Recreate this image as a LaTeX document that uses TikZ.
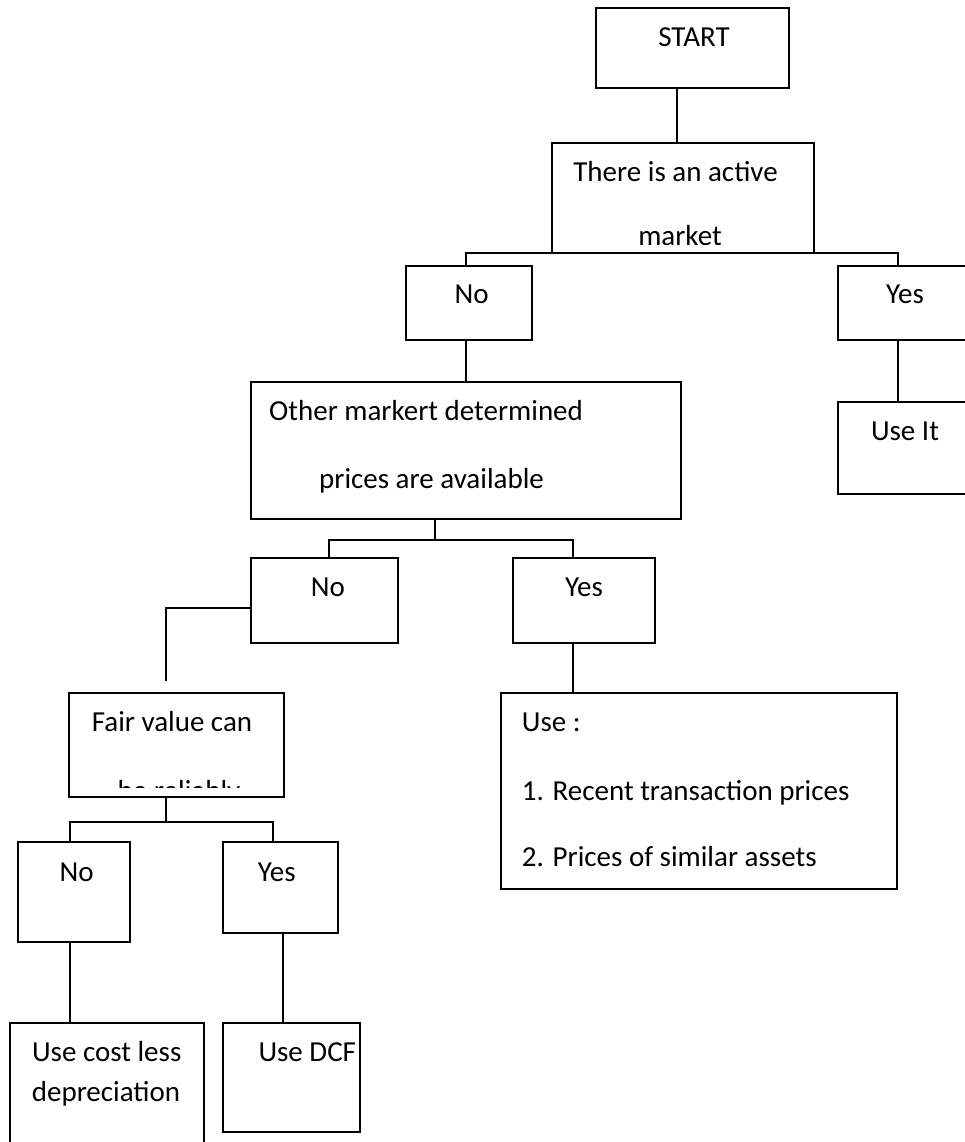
\documentclass[tikz,border=0pt]{standalone}
\usepackage{fontspec}
\setmainfont{Carlito}

\tikzset{
  box/.style={draw, line width=1.8pt, anchor=north west, inner sep=0pt, outer sep=0pt},
  txt/.style={anchor=base, inner sep=0pt, font=\fontsize{29}{35}\selectfont},
  link/.style={line width=1.1pt}
}

\begin{document}
\begin{tikzpicture}[x=1pt,y=-1pt]

\clip (0,0) rectangle (965,1142);

% boxes
\node[box, minimum width=193pt, minimum height=80pt] (start) at (596,8) {};
\node[box, minimum width=262pt, minimum height=110pt] (market) at (552,143) {};
\node[box, minimum width=126pt, minimum height=74pt] (no1) at (406,266) {};
\node[box, minimum width=160pt, minimum height=74pt] (yes1) at (838,266) {};
\node[box, minimum width=160pt, minimum height=92pt] (useit) at (838,402) {};
\node[box, minimum width=430pt, minimum height=137pt] (other) at (251,382) {};
\node[box, minimum width=147pt, minimum height=85pt] (no2) at (251,558) {};
\node[box, minimum width=142pt, minimum height=85pt] (yes2) at (513,558) {};
\node[box, minimum width=396pt, minimum height=196pt] (use) at (501,693) {};
\node[box, minimum width=215pt, minimum height=104pt] (fair) at (69,693) {};
\node[box, minimum width=112pt, minimum height=100pt] (no3) at (18,842) {};
\node[box, minimum width=115pt, minimum height=91pt] (yes3) at (223,842) {};
\node[box, minimum width=194pt, minimum height=227pt] (cost) at (10,1023) {};
\node[box, minimum width=137pt, minimum height=109pt] (dcf) at (223,1023) {};

\coordinate (fairgap) at ([xshift=-10.5pt,yshift=12pt]fair.north);

% connectors
\draw[link] ([xshift=-15.5pt]start.south) -- ([xshift=-6pt]market.north);
\draw[link] ([xshift=-3pt]no1.north) |- (market.south) -| ([xshift=-20pt]yes1.north);
\draw[link] ([xshift=-20pt]yes1.south) -- ([xshift=-20pt]useit.north);
\draw[link] ([xshift=-3pt]no1.south) -- (other.north);
\draw[link] ([xshift=-31pt]other.south) -- ++(0,21);
\draw[link] ([xshift=4.5pt]no2.north) -- ++(0,-18) -| ([xshift=-11pt]yes2.north);
\draw[link] ([xshift=-11pt]yes2.south) -- ([xshift=-126pt]use.north);
\draw[link] ([yshift=-7.5pt]no2.west) -| (fairgap);
\draw[link] ([xshift=-10.5pt]fair.south) -- ++(0,25);
\draw[link] ([xshift=-4pt]no3.north) -- ++(0,-20) -| ([xshift=-7.5pt]yes3.north);
\draw[link] ([xshift=-4pt]no3.south) -- ([xshift=-37pt]cost.north);
\draw[link] ([xshift=2.5pt]yes3.south) -- ([xshift=-8.5pt]dcf.north);

% texts
\node[txt] (tstart) at (694,46.7) {START};
\node[txt] (tmarket1) at (675.5,181.7) {There is an active};
\begin{scope}
  \clip (market.north west) rectangle ([yshift=9pt]market.south east);
  \node[txt] (tmarket2) at (680,245.5) {market};
\end{scope}
\node[txt] (tno1) at (471.7,303) {No};
\node[txt] (tyes1) at (905,303) {Yes};
\node[txt] (tuseit) at (905,440) {Use It};
\node[txt] (tother1) at (426,420) {Other markert determined};
\node[txt] (tother2) at (431.5,488) {prices are available};
\node[txt] (tno2) at (328,596) {No};
\node[txt] (tyes2) at (584,596) {Yes};
\node[txt] (tfair1) at (172,731.7) {Fair value can};
\begin{scope}
  \clip (fair.north west) rectangle ([yshift=10pt]fair.south east);
  \node[txt] (tfair2) at (179,800) {be reliably};
\end{scope}
\node[txt, anchor=base west] (tuse1) at (521.7,731.7) {Use :};
\node[txt, anchor=base west] (tuse2) at (521.7,800) {1. Recent transaction prices};
\node[txt, anchor=base west] (tuse3) at (521.7,866.7) {2. Prices of similar assets};
\node[txt] (tno3) at (76.7,881.7) {No};
\node[txt] (tyes3) at (276.7,881.7) {Yes};
\node[txt] (tcost1) at (106.7,1061.7) {Use cost less};
\node[txt] (tcost2) at (106,1101.7) {depreciation};
\node[txt, anchor=base west] (tdcf) at (258.3,1061.7) {Use DCF};

\end{tikzpicture}
\end{document}
